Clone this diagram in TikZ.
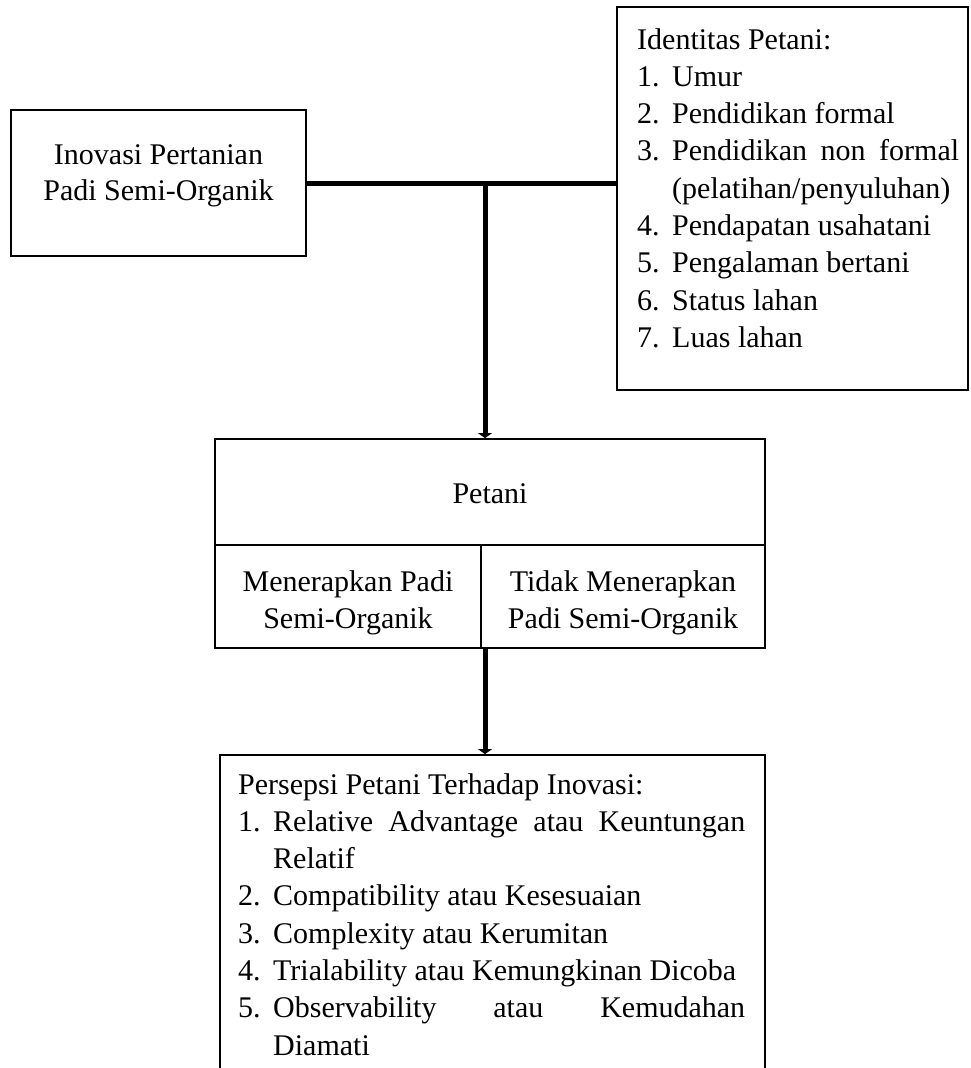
\documentclass[tikz,border=0pt]{standalone}
\usepackage{fontspec}
\setmainfont{Liberation Serif}
\usetikzlibrary{arrows.meta}
\newcommand\lstitem[2]{\par\hangindent=35pt\hangafter=1\noindent\makebox[35pt][l]{#1}#2}
\begin{document}
\begin{tikzpicture}[x=1pt,y=-1pt,
  box/.style={draw, line width=1.8pt, inner sep=0pt},
  txt/.style={font=\fontsize{30}{36.5}\selectfont, inner sep=0pt, align=center},
  lst/.style={font=\fontsize{30}{37.3}\selectfont, inner sep=0pt, align=justify, anchor=north west},
  conn/.style={line width=5pt},
  arr/.style={line width=5pt, -{Triangle[width=14pt,length=5pt]}}]
\useasboundingbox (0,0) rectangle (970,1068);
\clip (0,0) rectangle (970,1068);
\fill[white] (0,0) rectangle (970,1068);
% boxes
\node[box, minimum width=295pt, minimum height=146pt] (inov) at (158.5,183) {};
\node[box, minimum width=351pt, minimum height=383pt] (ident) at (792.5,198.5) {};
\node[box, minimum width=550pt, minimum height=106pt] (pet) at (490,492) {};
\node[box, minimum width=266pt, minimum height=103pt] (menr) at (348,596.5) {};
\node[box, minimum width=284pt, minimum height=103pt] (tdk) at (623,596.5) {};
\node[box, minimum width=545pt, minimum height=345pt] (pers) at (492.5,927.5) {};
% texts
\node[txt] (inovt) at (158.5,176) {Inovasi Pertanian\\Padi Semi-Organik};
\node[txt] (pett) at (490,494) {Petani};
\node[txt] (menrt) at (348,603) {Menerapkan Padi\\Semi-Organik};
\node[txt] (tdkt) at (623,603) {Tidak Menerapkan\\Padi Semi-Organik};
\node[lst, text width=322pt] (identt) at (637,28) {\noindent Identitas Petani:%
\lstitem{1.}{Umur}%
\lstitem{2.}{Pendidikan formal}%
\lstitem{3.}{Pendidikan non formal\linebreak (pelatihan/penyuluhan)}%
\lstitem{4.}{Pendapatan usahatani}%
\lstitem{5.}{Pengalaman bertani}%
\lstitem{6.}{Status lahan}%
\lstitem{7.}{Luas lahan}\par};
\node[lst, text width=507pt] (perst) at (238,773) {\noindent Persepsi Petani Terhadap Inovasi:%
\lstitem{1.}{Relative Advantage atau Keuntungan\linebreak Relatif}%
\lstitem{2.}{Compatibility atau Kesesuaian}%
\lstitem{3.}{Complexity atau Kerumitan}%
\lstitem{4.}{Trialability atau Kemungkinan Dicoba}%
\lstitem{5.}{Observability atau Kemudahan\linebreak Diamati}\par};
% connectors
\coordinate (j) at (485,183);
\coordinate (k) at (485,648);
\draw[conn] (inov.east |- j) -- (j -| ident.west);
\draw[arr] (j) -- (j |- pet.north);
\draw[arr] (k) -- (k |- pers.north);
\end{tikzpicture}
\end{document}
